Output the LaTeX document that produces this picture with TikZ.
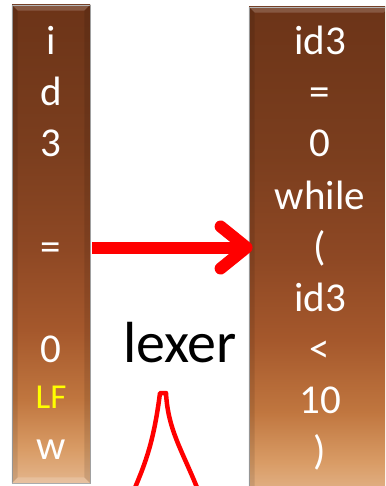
\documentclass[tikz,border=0pt]{standalone}
\usepackage{fontspec}
\setmainfont{Carlito}
\definecolor{btop}{HTML}{6C3418}
\definecolor{bA}{HTML}{7B3E1E}
\definecolor{bB}{HTML}{8E4824}
\definecolor{bC}{HTML}{A5582C}
\definecolor{bD}{HTML}{C0763F}
\definecolor{bE}{HTML}{D99C66}
\definecolor{bbot}{HTML}{E3B58C}
\definecolor{lfyellow}{HTML}{FFFF00}
\pgfdeclareverticalshading{barshade}{100bp}{color(0bp)=(bbot); color(25bp)=(bbot); color(28.5bp)=(bE); color(33.7bp)=(bD); color(41bp)=(bC); color(49.4bp)=(bB); color(59.8bp)=(bA); color(75bp)=(btop); color(100bp)=(btop)}
\pgfdeclarelayer{back}
\pgfsetlayers{back,main}
\tikzset{
  bar/.style={rectangle, inner sep=0pt, shading=barshade, draw=black!35, line width=0.8pt},
  tok/.style={anchor=base, text=white, font=\fontsize{41}{41}\selectfont, inner sep=0pt},
  lftok/.style={anchor=base, text=lfyellow, font=\fontsize{35}{35}\selectfont, inner sep=0pt},
  redline/.style={draw=red, line width=12pt},
  handline/.style={draw=red, line width=4.5pt, line cap=round, line join=round},
  bevel/.style={fill=white, opacity=0.18}
}
\begin{document}
\begin{tikzpicture}[x=1pt,y=-1pt]
\useasboundingbox (0,0) rectangle (385,486);
\clip (0,0) rectangle (385,486);
\fill[white] (0,0) rectangle (385,486);
% bars
\node[bar, minimum width=78pt, minimum height=478pt] (L) at (51,244) {};
\node[bar, minimum width=140pt, minimum height=490pt] (R) at (319,252) {};
% bevels
\fill[bevel] (L.north west) -- (L.north east) -- ([shift={(-6,6)}]L.north east) -- ([shift={(6,6)}]L.north west) -- cycle;
\fill[black, opacity=0.10] (L.north west) -- ([shift={(6,6)}]L.north west) -- ([shift={(6,-6)}]L.south west) -- (L.south west) -- cycle;
\fill[black, opacity=0.10] (L.north east) -- ([shift={(-6,6)}]L.north east) -- ([shift={(-6,-6)}]L.south east) -- (L.south east) -- cycle;
\fill[bevel] (L.south west) -- (L.south east) -- ([shift={(-6,-6)}]L.south east) -- ([shift={(6,-6)}]L.south west) -- cycle;
\fill[bevel] (R.north west) -- (R.north east) -- ([shift={(-6,6)}]R.north east) -- ([shift={(6,6)}]R.north west) -- cycle;
\fill[black, opacity=0.10] (R.north west) -- ([shift={(6,6)}]R.north west) -- ([shift={(6,-6)}]R.south west) -- (R.south west) -- cycle;
% left tokens
\node[tok] (l1) at (51,55) {i};
\node[tok] (l2) at (51,106) {d};
\node[tok] (l3) at (51,157) {3};
\node[tok] (l4) at (51,260) {=};
\node[tok] (l5) at (51,362) {0};
\node[lftok] (l6) at (51,408) {LF};
\node[tok] (l7) at (51,459) {w};
% right tokens
\node[tok] (r1) at (320,55) {id3};
\node[tok] (r2) at (320,106) {=};
\node[tok] (r3) at (320,157) {0};
\node[tok] (r4) at (320,209) {while};
\node[tok] (r5) at (320,260) {(};
\node[tok] (r6) at (320,311) {id3};
\node[tok] (r7) at (320,362) {<};
\node[tok] (r8) at (320,413) {10};
\node[tok] (r9) at (320,464) {)};
% label
\node[anchor=base, font=\fontsize{58}{58}\selectfont, inner sep=0pt] (lex) at (180,362) {lexer};
% arrow
\coordinate (as) at ([xshift=2pt]L.east |- 0,247.5);
\coordinate (tip) at (R.west |- 0,247.5);
\draw[redline] (as) -- ([xshift=-4pt]tip);
\draw[redline, line cap=round, line join=round] ([shift={(-28,-21)}]tip) -- ([xshift=-2pt]tip) -- ([shift={(-28,21)}]tip);
% hand-drawn peak
\coordinate (h0) at (134,490);
\coordinate (hp) at (160,393);
\coordinate (hq) at (166,393);
\coordinate (h1) at (198,490);
\draw[handline] (h0) .. controls (146,462) and (154,440) .. (hp) -- (hq) .. controls (168,430) and (182,450) .. (h1);
\end{tikzpicture}
\end{document}
